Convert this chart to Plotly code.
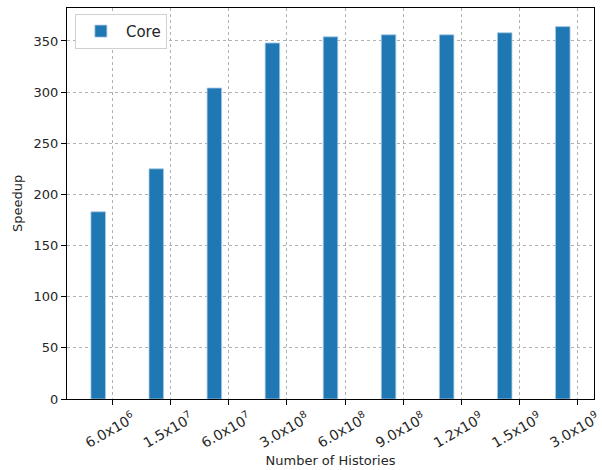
import plotly.graph_objects as go

categories = ["6.0x10<sup>6</sup>", "1.5x10<sup>7</sup>", "6.0x10<sup>7</sup>", "3.0x10<sup>8</sup>",
              "6.0x10<sup>8</sup>", "9.0x10<sup>8</sup>", "1.2x10<sup>9</sup>", "1.5x10<sup>9</sup>",
              "3.0x10<sup>9</sup>"]
core_speedup = [183, 225, 304, 348, 354, 356, 356, 358, 364]
y_ticks = [0, 50, 100, 150, 200, 250, 300, 350]

positions = list(range(len(categories)))
tick_pos = [p + 0.25 for p in positions]

fig = go.Figure()
fig.add_trace(go.Bar(
    x=positions, y=core_speedup, width=0.25, name="Core",
    marker=dict(color="#1f77b4", line=dict(color="#a9c9e2", width=0.8)),
))

font = "DejaVu Sans, sans-serif"
fig.update_layout(
    width=602, height=470,
    margin=dict(l=67, r=8, t=8, b=71),
    plot_bgcolor="white", paper_bgcolor="white",
    font=dict(family=font, size=13, color="#262626"),
    showlegend=True,
    legend=dict(x=0.015, y=0.985, xanchor="left", yanchor="top",
                bordercolor="#d0d0d0", borderwidth=1, bgcolor="white",
                font=dict(size=15), itemwidth=40),
    xaxis=dict(
        range=[-0.5375, 8.5375], tickmode="array", tickvals=tick_pos, ticktext=categories,
        tickangle=-30, ticks="outside", ticklen=5, tickcolor="black",
        showline=True, linecolor="black", linewidth=1, mirror=True,
        showgrid=True, gridcolor="#b0b0b0", griddash="dot", gridwidth=0.8,
        title=dict(text="Number of Histories", standoff=6, font=dict(size=13)),
        zeroline=False, automargin=False, ticklabeloverflow="allow",
        tickfont=dict(size=14), ticklabelshift=20,
    ),
    yaxis=dict(
        range=[0, 382.2], tickmode="array", tickvals=y_ticks,
        ticks="outside", ticklen=5, tickcolor="black",
        showline=True, linecolor="black", linewidth=1, mirror=True,
        showgrid=True, gridcolor="#b0b0b0", griddash="dot", gridwidth=0.8,
        title=dict(text="Speedup", standoff=8, font=dict(size=13)),
        zeroline=False, automargin=False,
        tickfont=dict(size=13),
    ),
)
fig.write_html("out.html", config={"displayModeBar": False},
               post_script="document.body.style.margin='0';")
